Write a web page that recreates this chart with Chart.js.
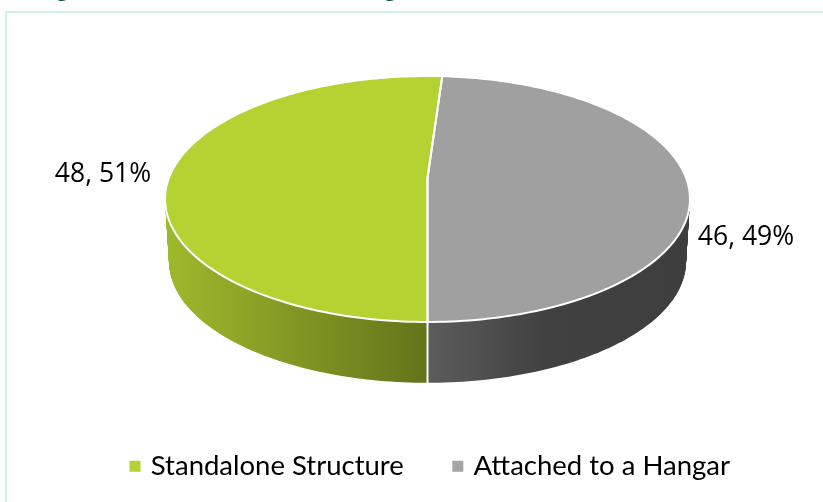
<!DOCTYPE html>
<html>
<head>
<meta charset="utf-8">
<script src="https://cdn.jsdelivr.net/npm/chart.js@4"></script>
<style>
  html, body { margin: 0; padding: 0; background: #fff; overflow: hidden; }
  #frame { position: absolute; left: 5px; top: 11px; width: 900px; height: 600px; border: 2px solid #ccf3ea; }
  #pie { position: absolute; left: 0; top: 0; }
</style>
</head>
<body>
<div id="frame"></div>
<canvas id="pie" width="823" height="502"></canvas>
<script>
const categories = ['Standalone Structure', 'Attached to a Hangar']
const counts = [48, 46]
const percents = [51, 49]
const topColors = ['#b5d233', '#a0a0a0']
const legendColors = ['#b5d233', '#a5a5a5']

// where each label goes, the 3d look is faked below
const labelSpots = [{ x: 103, y: 174 }, { x: 746, y: 237 }]

// rough perspective of the tilted disc
const view = { cx: 427.5, cy: 178, a: 258.6, b: 119.4, k: 0.1707, depth: 63, shrink: 0.015 }

function rimPoint(angle, d) {
  const w = 1 - view.k * Math.sin(angle)
  const s = 1 - view.shrink * d / view.depth
  return {
    x: view.cx + s * view.a * Math.cos(angle) / w,
    y: view.cy + s * view.b * Math.sin(angle) / w + d
  }
}

function slicePath(ctx, arc, d) {
  ctx.beginPath()
  ctx.moveTo(view.cx, view.cy + d)
  for (let i = 0; i <= 160; i++) {
    const p = rimPoint(arc.startAngle + (arc.endAngle - arc.startAngle) * i / 160, d)
    ctx.lineTo(p.x, p.y)
  }
  ctx.closePath()
}

function sideFill(ctx, index) {
  const g = ctx.createLinearGradient(165, 0, 690, 0)
  if (index === 0) {
    g.addColorStop(0, '#9fb92c')
    g.addColorStop(0.499, '#64741a')
  } else {
    g.addColorStop(0.5, '#5c5c5c')
    g.addColorStop(0.72, '#414141')
    g.addColorStop(1, '#3e3e3e')
  }
  return g
}

const pie3d = {
  id: 'pie3d',
  beforeDatasetsDraw(chart) {
    const ctx = chart.ctx
    const arcs = chart.getDatasetMeta(0).data
    ctx.save()
    // side wall, stacked copies of each slice going up
    arcs.forEach((arc, i) => {
      ctx.fillStyle = sideFill(ctx, i)
      for (let d = view.depth; d > 0; d--) {
        slicePath(ctx, arc, d)
        ctx.fill()
      }
    })
    ctx.strokeStyle = '#fff'
    ctx.lineWidth = 2
    ctx.beginPath()
    ctx.moveTo(view.cx, 322)
    ctx.lineTo(view.cx, 385)
    ctx.stroke()
    // top face
    arcs.forEach((arc, i) => {
      slicePath(ctx, arc, 0)
      ctx.fillStyle = topColors[i]
      ctx.fill()
    })
    ctx.lineWidth = 2
    arcs.forEach(arc => {
      slicePath(ctx, arc, 0)
      ctx.stroke()
    })
    ctx.restore()
    return false
  },
  afterDraw(chart) {
    const ctx = chart.ctx
    ctx.save()
    ctx.fillStyle = '#000'
    ctx.font = '26.5px "Open Sans"'
    ctx.textAlign = 'center'
    ctx.textBaseline = 'middle'
    counts.forEach((c, i) => {
      ctx.fillText(c + ', ' + percents[i] + '%', labelSpots[i].x, labelSpots[i].y)
    })
    // tails of the title that got cut off by the crop
    ctx.fillStyle = '#0f5350'
    ctx.font = 'bold 22px "Open Sans"'
    ctx.fillText('g', 63, -10.5)
    ctx.fillText('g', 391, -10.5)
    ctx.restore()
  }
}

new Chart(document.getElementById('pie'), {
  type: 'pie',
  data: {
    labels: categories,
    datasets: [{ data: counts, backgroundColor: topColors, borderWidth: 0 }]
  },
  options: {
    responsive: false,
    animation: false,
    rotation: 180,
    layout: { padding: { left: 40, bottom: 12 } },
    plugins: {
      tooltip: { enabled: false },
      legend: {
        position: 'bottom',
        labels: {
          color: '#000',
          font: { family: 'Lato', size: 27.5 },
          boxWidth: 4,
          boxHeight: 4,
          padding: 52,
          generateLabels: () => categories.map((name, i) => ({
            text: name,
            fillStyle: legendColors[i],
            strokeStyle: legendColors[i],
            lineWidth: 7,
            index: i
          }))
        }
      }
    }
  },
  plugins: [pie3d]
})
</script>
</body>
</html>
